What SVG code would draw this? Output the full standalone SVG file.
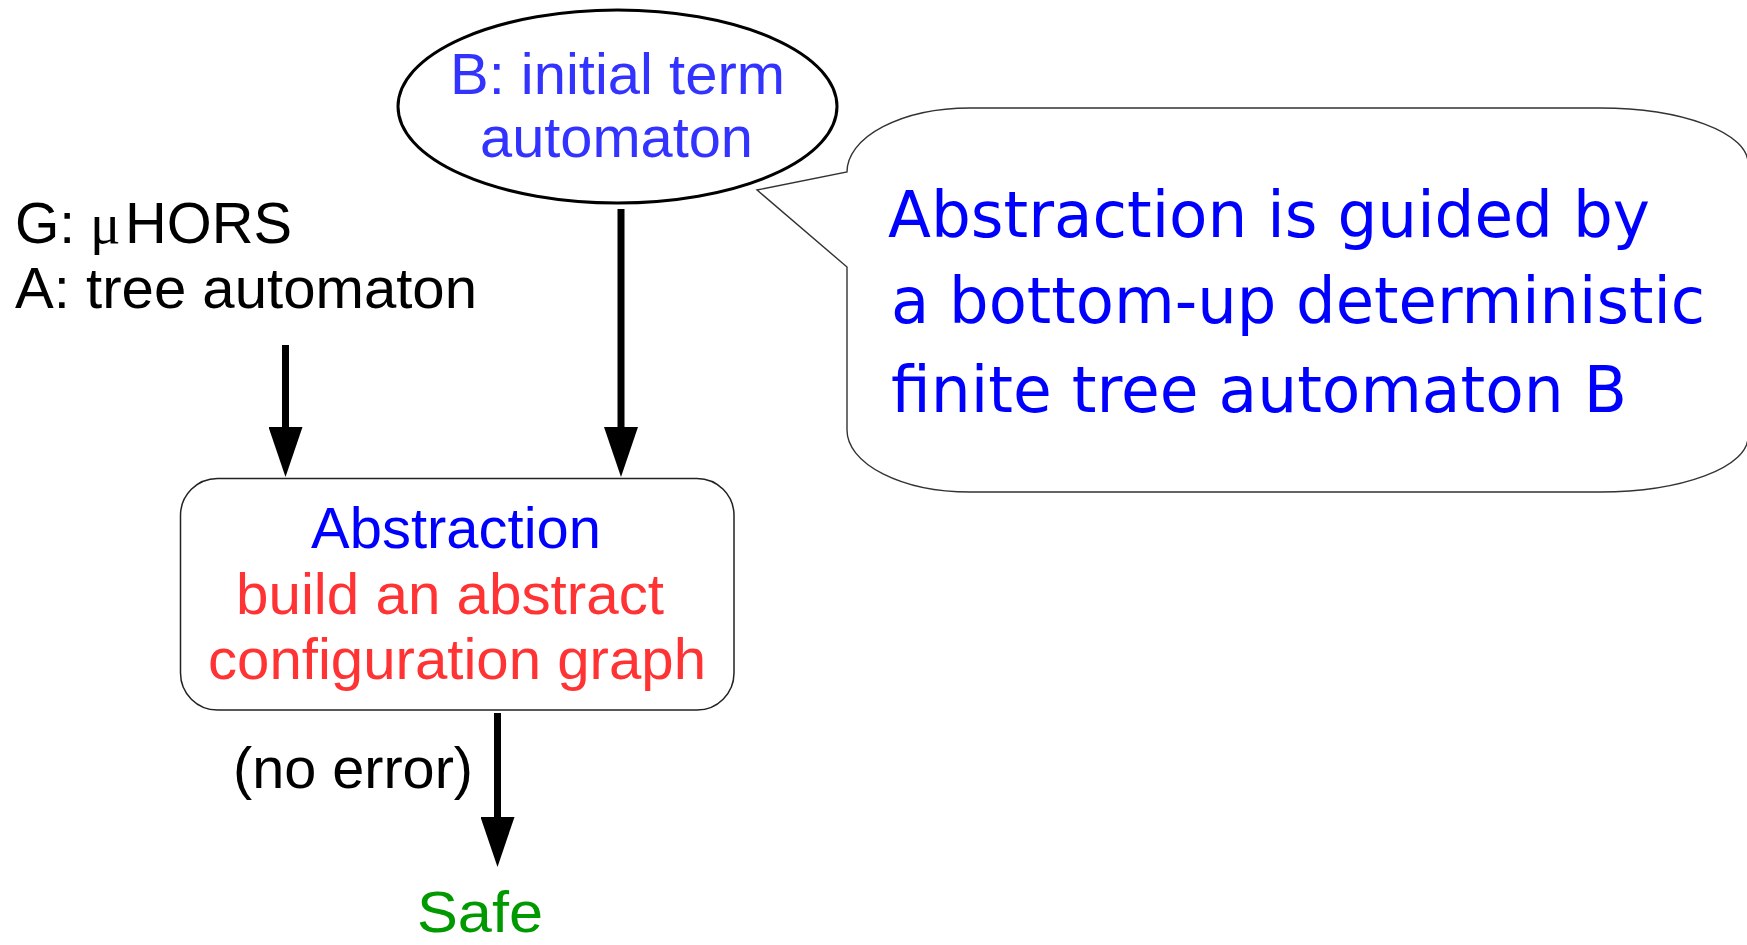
<svg xmlns="http://www.w3.org/2000/svg" width="1747" height="945" viewBox="0 0 1747 945">
  <defs>
    <marker id="head" markerUnits="userSpaceOnUse" markerWidth="50" markerHeight="34" refX="0" refY="17" orient="auto">
      <path d="M0,0 L50,17 L0,34 Z" fill="#000"/>
    </marker>
    <style>
      .sans { font-family: "Liberation Sans", Arial, sans-serif; font-size: 57px; }
      .note { font-family: "DejaVu Sans", sans-serif; font-size: 64px; fill: #0000ff; }
      .arrow { stroke: #000; stroke-width: 7; fill: none; marker-end: url(#head); }
    </style>
  </defs>
  <rect width="1747" height="945" fill="#fff"/>

  <!-- speech bubble with pointer towards the B node -->
  <g id="callout">
    <path d="M847,172 A123,64 0 0 1 970,108 L1600,108 A148,55 0 0 1 1748,163 L1748,437 A148,55 0 0 1 1600,492 L970,492 A123,62 0 0 1 847,430 L847,267 L757,190 Z" fill="#fff" stroke="#333" stroke-width="1.4"/>
    <text class="note" x="888" y="237" textLength="762" lengthAdjust="spacingAndGlyphs">Abstraction is guided by</text>
    <text class="note" x="891" y="323" textLength="814" lengthAdjust="spacingAndGlyphs">a bottom-up deterministic</text>
    <text class="note" x="891" y="412" textLength="736" lengthAdjust="spacingAndGlyphs">finite tree automaton B</text>
  </g>

  <!-- initial term automaton -->
  <g id="node-b">
    <ellipse cx="617.5" cy="106.5" rx="219.5" ry="96.5" fill="#fff" stroke="#000" stroke-width="3"/>
    <text class="sans" x="450" y="94" fill="#3333ff" textLength="335" lengthAdjust="spacingAndGlyphs">B: initial term</text>
    <text class="sans" x="480" y="157" fill="#3333ff" textLength="273" lengthAdjust="spacingAndGlyphs">automaton</text>
  </g>

  <!-- inputs -->
  <g id="inputs">
    <text class="sans" x="15" y="243" fill="#000">G:</text>
    <text x="90" y="243" font-family="'Liberation Serif', 'Times New Roman', serif" font-size="57" fill="#000">μ</text>
    <text class="sans" x="125" y="243" fill="#000" textLength="167" lengthAdjust="spacingAndGlyphs">HORS</text>
    <text class="sans" x="15" y="308" fill="#000" textLength="462" lengthAdjust="spacingAndGlyphs">A: tree automaton</text>
  </g>

  <!-- abstraction step -->
  <g id="node-abstraction">
    <rect x="180.5" y="478.5" width="553.5" height="231.5" rx="37" ry="37" fill="#fff" stroke="#222" stroke-width="1.5"/>
    <text class="sans" x="311" y="548" fill="#0000ff" textLength="290" lengthAdjust="spacingAndGlyphs">Abstraction</text>
    <text class="sans" x="236" y="614" fill="#ff3333" textLength="428" lengthAdjust="spacingAndGlyphs">build an abstract</text>
    <text class="sans" x="208" y="679" fill="#ff3333" textLength="498" lengthAdjust="spacingAndGlyphs">configuration graph</text>
  </g>

  <!-- result -->
  <g id="node-safe">
    <text x="417" y="932" font-family="'Liberation Sans', Arial, sans-serif" font-size="58" fill="#009900" textLength="126" lengthAdjust="spacingAndGlyphs">Safe</text>
  </g>

  <g id="connectors">
    <line class="arrow" x1="285.5" y1="345" x2="285.5" y2="427"/>
    <line class="arrow" x1="621" y1="209" x2="621" y2="427"/>
    <line class="arrow" x1="497.5" y1="713" x2="497.5" y2="817"/>
    <text class="sans" x="233" y="788" fill="#000" textLength="240" lengthAdjust="spacingAndGlyphs">(no error)</text>
  </g>
</svg>
